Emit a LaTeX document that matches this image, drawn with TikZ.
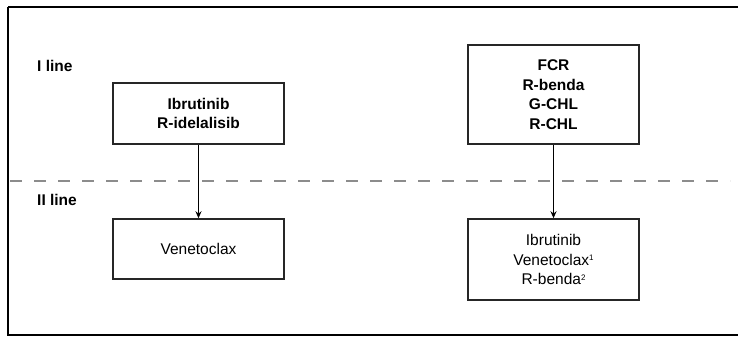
\documentclass[tikz,border=0pt]{standalone}
\usepackage{fontspec}
\setmainfont{Liberation Sans}
\usetikzlibrary{arrows.meta}
\newcommand{\smsup}[1]{\raisebox{0.55ex}{\fontsize{8pt}{8pt}\selectfont #1}}
\begin{document}
\begin{tikzpicture}[x=1pt,y=-1pt,
  txt/.style={font=\fontsize{15.5pt}{19.5pt}\selectfont, align=center},
  box/.style={draw=black!85, line width=1.5pt, inner sep=0pt},
  lbl/.style={font=\fontsize{15.5pt}{19.5pt}\selectfont\bfseries, anchor=west, inner sep=0pt},
  arr/.style={line width=1.5pt, -{Stealth[length=7pt,width=6pt]}}
]
\clip (0,0) rectangle (738,338);
\fill[white] (0,0) rectangle (738,338);
\draw[line width=2.5pt] (8,7) -- (760,7) (8,7) -- (8,335) -- (760,335);
\draw[black!45, line width=2.5pt, dash pattern=on 12pt off 12pt] (10,181) -- (730,181);
\node[lbl] (l1) at (37,66) {I line};
\node[lbl] (l2) at (37,200) {II line};
\node[box, minimum width=171pt, minimum height=61pt] (a) at (198.5,113.5) {};
\node[txt] at (a.center) {\bfseries Ibrutinib\\\bfseries R-idelalisib};
\node[box, minimum width=171pt, minimum height=60pt] (b) at (198.5,249) {};
\node[txt] at (b.center) {Venetoclax};
\node[box, minimum width=171pt, minimum height=99pt] (c) at (553.5,94.5) {};
\node[txt] at (c.center) {\bfseries FCR\\\bfseries R-benda\\\bfseries G-CHL\\\bfseries R-CHL};
\node[box, minimum width=171pt, minimum height=81pt] (d) at (553.5,259.5) {};
\node[txt] at (d.center) {Ibrutinib\\Venetoclax\smsup{1}\\R-benda\smsup{2}};
\draw[arr] (a.south) -- (b.north);
\draw[arr] (c.south) -- (d.north);
\end{tikzpicture}
\end{document}
